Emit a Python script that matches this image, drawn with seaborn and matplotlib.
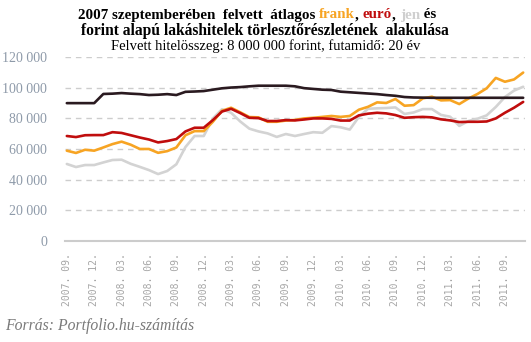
import matplotlib
matplotlib.use("Agg")
import matplotlib.pyplot as plt
import pandas as pd
import seaborn as sns

# Havi törlesztőrészlet (Ft), 2007. 09. – 2011. 11.
honapok = list(range(51))

forint = [90000, 90000, 90000, 90000, 96000, 96200, 96600, 96200, 95900, 95300,
          95500, 95900, 95300, 97400, 97600, 97900, 98800, 99700, 100200, 100500,
          101000, 101400, 101400, 101400, 101400, 101000, 99800, 99300, 98800, 98600,
          97500, 97100, 96700, 96300, 95900, 95300, 94800, 94000, 93700, 93600,
          93500, 93500, 93500, 93500, 93500, 93500, 93500, 93500, 93500, 93500,
          93500]

euro = [68500, 67800, 69000, 69100, 69100, 71000, 70500, 69000, 67500, 66200,
        64300, 65200, 66500, 71500, 73900, 73900, 78900, 84500, 86300, 83500,
        80400, 80200, 78300, 78300, 78900, 78700, 79300, 80000, 80000, 79700,
        78600, 78600, 82000, 83100, 83700, 83300, 82200, 80400, 80800, 81000,
        80700, 79400, 78700, 77600, 77800, 77800, 78000, 80000, 83700, 87000,
        90800]

frank = [58900, 57400, 59500, 58900, 61000, 63200, 64800, 62800, 60000, 60000,
         57500, 58600, 61000, 69000, 71700, 71700, 77800, 85000, 87000, 84000,
         80900, 80700, 77800, 77800, 78600, 79000, 80000, 80400, 81000, 81600,
         81000, 81600, 85700, 87600, 90500, 90100, 92700, 88300, 88700, 93100,
         94200, 91800, 92000, 89400, 93000, 96000, 99700, 106500, 104000, 105500,
         110000]

jen = [50200, 48200, 49500, 49500, 51200, 52800, 53000, 50300, 48300, 46200,
       43600, 45600, 50000, 61300, 68500, 68500, 80000, 86000, 83700, 78000,
       73300, 71500, 70200, 67900, 69800, 68500, 69800, 71000, 70600, 75000,
       74200, 72700, 81000, 86300, 86600, 86800, 87200, 82900, 83900, 86100,
       86100, 82300, 81100, 75100, 78300, 79800, 82000, 87500, 94000, 98200,
       100700]

tick_pos = list(range(0, 49, 3))
tick_labels = ["2007. 09.", "2007. 12.", "2008. 03.", "2008. 06.", "2008. 09.",
               "2008. 12.", "2009. 03.", "2009. 06.", "2009. 09.", "2009. 12.",
               "2010. 03.", "2010. 06.", "2010. 09.", "2010. 12.", "2011. 03.",
               "2011. 06.", "2011. 09."]

y_ticks = [0, 20000, 40000, 60000, 80000, 100000, 120000]

colors = {"jen": "#d3d3d3", "frank": "#f7a423", "euró": "#c00d0d", "forint": "#2a1a20"}

sns.set_style("white")
plt.rcParams["font.family"] = ["Liberation Serif", "DejaVu Serif"]

df = pd.DataFrame({"honap": honapok, "jen": jen, "frank": frank,
                   "euró": euro, "forint": forint})
long_df = df.melt(id_vars="honap", var_name="deviza", value_name="reszlet")

fig = plt.figure(figsize=(5.31, 3.42), dpi=100)
ax = fig.add_axes([0.1224, 0.2962, 0.8663, 0.5363])

sns.lineplot(data=long_df, x="honap", y="reszlet", hue="deviza",
             hue_order=["jen", "frank", "euró", "forint"], palette=colors,
             linewidth=1.9, legend=False, ax=ax)

ax.set_xlim(-0.2, 50.2)
ax.set_ylim(0, 120000)
ax.set_xlabel("")
ax.set_ylabel("")

ax.set_yticks(y_ticks)
ax.set_yticklabels([f"{v:,}".replace(",", " ") for v in y_ticks],
                   fontsize=10, color="#8e9aa9")
ax.set_xticks(tick_pos)
ax.set_xticklabels(tick_labels, rotation=90, fontsize=7,
                   family="DejaVu Sans Mono", color="#a6a6a6")
ax.tick_params(axis="y", length=0, pad=13)
ax.tick_params(axis="x", length=0, pad=9)

ax.set_axisbelow(True)
ax.yaxis.grid(True, linestyle=(0, (4, 3.5)), color="#cdcdcd", linewidth=1)
ax.xaxis.grid(False)
for side in ["left", "right", "top"]:
    ax.spines[side].set_visible(False)
ax.spines["bottom"].set_color("#cccccc")
ax.spines["bottom"].set_linewidth(1.5)
ax.spines["bottom"].set_zorder(0.5)

# Cím: többszínű első sor, darabonként elhelyezve
fig.canvas.draw()
renderer = fig.canvas.get_renderer()


def colored_line(parts, y, size, weight, cx):
    texts = []
    for s, c in parts:
        t = fig.text(0, y, s, color=c, fontsize=size, fontweight=weight,
                     ha="left", va="center")
        texts.append(t)
    widths = [t.get_window_extent(renderer).width for t in texts]
    total = sum(widths)
    x = cx * fig.bbox.width - total / 2
    for t, w in zip(texts, widths):
        t.set_x(x / fig.bbox.width)
        x += w


colored_line([("2007 szeptemberében  felvett  átlagos ", "#000000"),
              ("frank", colors["frank"]),
              (", ", "#000000"),
              ("euró", colors["euró"]),
              (", ", "#000000"),
              ("jen", "#cfcfcf"),
              (" és", "#000000")],
             1 - 15 / 342, 10.8, "bold", 257 / 531)
fig.text(265 / 531, 1 - 31 / 342,
         "forint alapú lakáshitelek törlesztőrészletének  alakulása",
         fontsize=11.2, fontweight="bold", ha="center", va="center", color="#000000")
fig.text(266 / 531, 1 - 46 / 342,
         "Felvett hitelösszeg: 8 000 000 forint, futamidő: 20 év",
         fontsize=10.5, ha="center", va="center", color="#000000")

fig.text(5 / 531, 1 - 326 / 342, "Forrás: Portfolio.hu-számítás",
         fontsize=11.3, style="italic", ha="left", va="center", color="#7a7a7a")

fig.savefig("out.png", dpi=100)
